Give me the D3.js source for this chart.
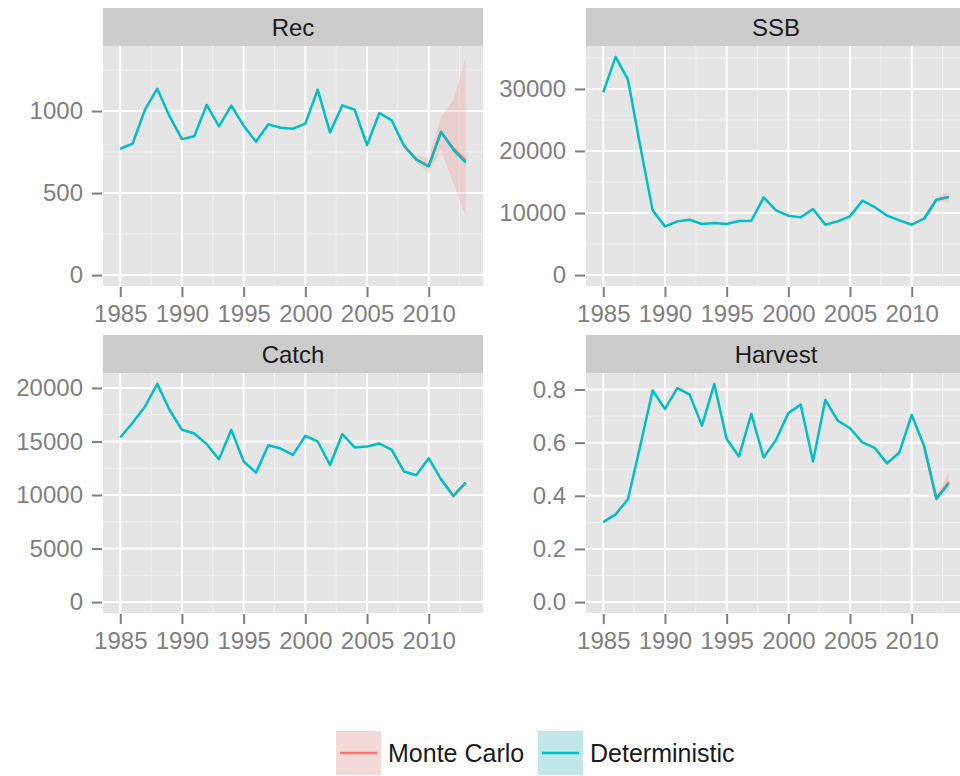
<!DOCTYPE html>
<html>
<head>
<meta charset="utf-8">
<script src="https://cdn.jsdelivr.net/npm/d3@7"></script>
<style>
  html, body { margin: 0; padding: 0; background: #fff; }
  svg { display: block; font-family: "Liberation Sans", Arial, Helvetica, sans-serif; }
</style>
</head>
<body>
<svg id="chart" width="960" height="776"></svg>
<script>
// Stock assessment outputs, 1985-2013
const years = d3.range(1985, 2014);

const recDet = [770, 801, 1008, 1136, 967, 829, 846, 1037, 907, 1033, 911, 813, 919, 898, 892,
  923, 1130, 870, 1035, 1008, 793, 988, 943, 789, 703, 663, 874, 764, 687];
const ssbDet = [29460, 35160, 31505, 20750, 10430, 7850, 8655, 8925, 8225, 8390, 8225, 8710, 8760,
  12530, 10430, 9570, 9300, 10645, 8120, 8655, 9460, 11990, 10970, 9570, 8820, 8120, 9085, 12150, 12580];
const catchDet = [15375, 16750, 18250, 20375, 17940, 16090, 15750, 14750, 13340, 16090, 13125, 12090,
  14650, 14340, 13750, 15530, 15000, 12810, 15690, 14440, 14530, 14810, 14220, 12190, 11840, 13440,
  11470, 9910, 11160];
const harvestDet = [0.301, 0.330, 0.387, 0.588, 0.796, 0.727, 0.805, 0.781, 0.664, 0.821, 0.614, 0.548,
  0.708, 0.544, 0.610, 0.711, 0.743, 0.529, 0.761, 0.683, 0.654, 0.601, 0.580, 0.522, 0.563, 0.704,
  0.588, 0.389, 0.446];

// Monte Carlo median and interval over the projection years
const recMcYears = [2008, 2009, 2010, 2011, 2012, 2013];
const recMcMid = [789, 705, 665, 872, 772, 697];
const recMcLo = [785, 685, 622, 764, 561, 358];
const recMcHi = [793, 724, 713, 965, 1069, 1330];

const ssbMcYears = [2011, 2012, 2013];
const ssbMcMid = [9085, 12150, 12600];
const ssbMcLo = [9085, 11850, 11700];
const ssbMcHi = [9085, 12450, 13500];

const catchMcYears = [2011, 2012, 2013];
const catchMcMid = [11470, 9910, 11160];
const catchMcLo = [11470, 9910, 11160];
const catchMcHi = [11470, 9910, 11160];

const harvestMcYears = [2011, 2012, 2013];
const harvestMcMid = [0.588, 0.389, 0.452];
const harvestMcLo = [0.588, 0.380, 0.420];
const harvestMcHi = [0.588, 0.400, 0.490];

const xBreaks = [1985, 1990, 1995, 2000, 2005, 2010];
const recBreaks = [0, 500, 1000];
const ssbBreaks = [0, 10000, 20000, 30000];
const catchBreaks = [0, 5000, 10000, 15000, 20000];
const harvestBreaks = [0, 0.2, 0.4, 0.6, 0.8];

const legendLabels = ["Monte Carlo", "Deterministic"];
const seriesColors = ["#F8766D", "#00BFC4"];

const panels = [
  { title: "Rec", det: recDet, mcYears: recMcYears, mid: recMcMid, lo: recMcLo, hi: recMcHi,
    breaks: recBreaks, fmt: d3.format("d"), col: 0, row: 0 },
  { title: "SSB", det: ssbDet, mcYears: ssbMcYears, mid: ssbMcMid, lo: ssbMcLo, hi: ssbMcHi,
    breaks: ssbBreaks, fmt: d3.format("d"), col: 1, row: 0 },
  { title: "Catch", det: catchDet, mcYears: catchMcYears, mid: catchMcMid, lo: catchMcLo, hi: catchMcHi,
    breaks: catchBreaks, fmt: d3.format("d"), col: 0, row: 1 },
  { title: "Harvest", det: harvestDet, mcYears: harvestMcYears, mid: harvestMcMid, lo: harvestMcLo, hi: harvestMcHi,
    breaks: harvestBreaks, fmt: d3.format(".1f"), col: 1, row: 1 }
];

const svg = d3.select("#chart");
const colLeft = [103, 586];
const stripTop = [8, 335];
const stripH = 38;
const plotW = 380, plotH = 240;

panels.forEach(p => {
  const x0 = colLeft[p.col];
  const sTop = stripTop[p.row];
  const pTop = sTop + stripH;
  const g = svg.append("g");

  const xExt = [1985, 2013];
  const xPad = (xExt[1] - xExt[0]) * 0.05;
  const x = d3.scaleLinear().domain([xExt[0] - xPad, xExt[1] + xPad]).range([x0, x0 + plotW]);
  const yMax = d3.max([d3.max(p.det), d3.max(p.hi)]);
  const yMin = 0;
  const yPad = (yMax - yMin) * 0.05;
  const y = d3.scaleLinear().domain([yMin - yPad, yMax + yPad]).range([pTop + plotH, pTop]);

  // strip
  g.append("rect").attr("x", x0).attr("y", sTop).attr("width", plotW).attr("height", stripH)
    .attr("fill", "#CCCCCC");
  g.append("text").attr("x", x0 + plotW / 2).attr("y", sTop + stripH / 2 + 8.5)
    .attr("text-anchor", "middle").attr("font-size", 24).attr("fill", "#1A1A1A").text(p.title);

  // panel background
  g.append("rect").attr("x", x0).attr("y", pTop).attr("width", plotW).attr("height", plotH)
    .attr("fill", "#E5E5E5");

  // minor grid
  const yStep = p.breaks[1] - p.breaks[0];
  const yMinor = p.breaks.map(b => b + yStep / 2).concat([p.breaks[0] - yStep / 2])
    .filter(v => v >= y.domain()[0] && v <= y.domain()[1]);
  const xMinor = xBreaks.map(b => b + 2.5).concat([xBreaks[0] - 2.5])
    .filter(v => v >= x.domain()[0] && v <= x.domain()[1]);
  g.selectAll(".ymin").data(yMinor).join("line")
    .attr("x1", x0).attr("x2", x0 + plotW).attr("y1", d => y(d)).attr("y2", d => y(d))
    .attr("stroke", "#F2F2F2").attr("stroke-width", 1);
  g.selectAll(".xmin").data(xMinor).join("line")
    .attr("y1", pTop).attr("y2", pTop + plotH).attr("x1", d => x(d)).attr("x2", d => x(d))
    .attr("stroke", "#F2F2F2").attr("stroke-width", 1);

  // major grid
  g.selectAll(".ymaj").data(p.breaks).join("line")
    .attr("x1", x0).attr("x2", x0 + plotW).attr("y1", d => y(d)).attr("y2", d => y(d))
    .attr("stroke", "#FFFFFF").attr("stroke-width", 2);
  g.selectAll(".xmaj").data(xBreaks).join("line")
    .attr("y1", pTop).attr("y2", pTop + plotH).attr("x1", d => x(d)).attr("x2", d => x(d))
    .attr("stroke", "#FFFFFF").attr("stroke-width", 2);

  // Monte Carlo ribbon and median
  const mc = p.mcYears.map((yr, i) => ({ yr, mid: p.mid[i], lo: p.lo[i], hi: p.hi[i] }));
  g.append("path").datum(mc)
    .attr("d", d3.area().x(d => x(d.yr)).y0(d => y(d.lo)).y1(d => y(d.hi)))
    .attr("fill", seriesColors[0]).attr("fill-opacity", 0.2);
  g.append("path").datum(mc)
    .attr("d", d3.line().x(d => x(d.yr)).y(d => y(d.mid)))
    .attr("fill", "none").attr("stroke", seriesColors[0]).attr("stroke-width", 2.5)
    .attr("stroke-linejoin", "round");

  // deterministic run
  g.append("path").datum(years.map((yr, i) => ({ yr, v: p.det[i] })))
    .attr("d", d3.line().x(d => x(d.yr)).y(d => y(d.v)))
    .attr("fill", "none").attr("stroke", seriesColors[1]).attr("stroke-width", 2.5)
    .attr("stroke-linejoin", "round");

  // axes
  const yAxis = g.append("g").attr("transform", `translate(${x0 - 1},0)`)
    .call(d3.axisLeft(y).tickValues(p.breaks).tickFormat(p.fmt).tickSize(10).tickPadding(9));
  const xAxis = g.append("g").attr("transform", `translate(0,${pTop + plotH + 1})`)
    .call(d3.axisBottom(x).tickValues(xBreaks).tickFormat(d3.format("d")).tickSize(10).tickPadding(8));
  [yAxis, xAxis].forEach(a => {
    a.select(".domain").remove();
    a.selectAll(".tick line").attr("stroke", "#7F7F7F").attr("stroke-width", 2);
    a.selectAll(".tick text").attr("fill", "#7F7F7F").attr("font-size", 24)
      .attr("font-family", "'Liberation Sans', Arial, sans-serif");
  });
});

// legend
const legend = svg.append("g");
const keyX = [336, 538];
const textX = [388, 590];
legendLabels.forEach((lab, i) => {
  legend.append("rect").attr("x", keyX[i]).attr("y", 731).attr("width", 45).attr("height", 44)
    .attr("fill", "#F2F2F2");
  legend.append("rect").attr("x", keyX[i]).attr("y", 731).attr("width", 45).attr("height", 44)
    .attr("fill", seriesColors[i]).attr("fill-opacity", 0.2);
  legend.append("line").attr("x1", keyX[i] + 4).attr("x2", keyX[i] + 41).attr("y1", 753).attr("y2", 753)
    .attr("stroke", seriesColors[i]).attr("stroke-width", 2.5);
  legend.append("text").attr("x", textX[i]).attr("y", 762).attr("font-size", 25)
    .attr("fill", "#1A1A1A").text(lab);
});
</script>
</body>
</html>
